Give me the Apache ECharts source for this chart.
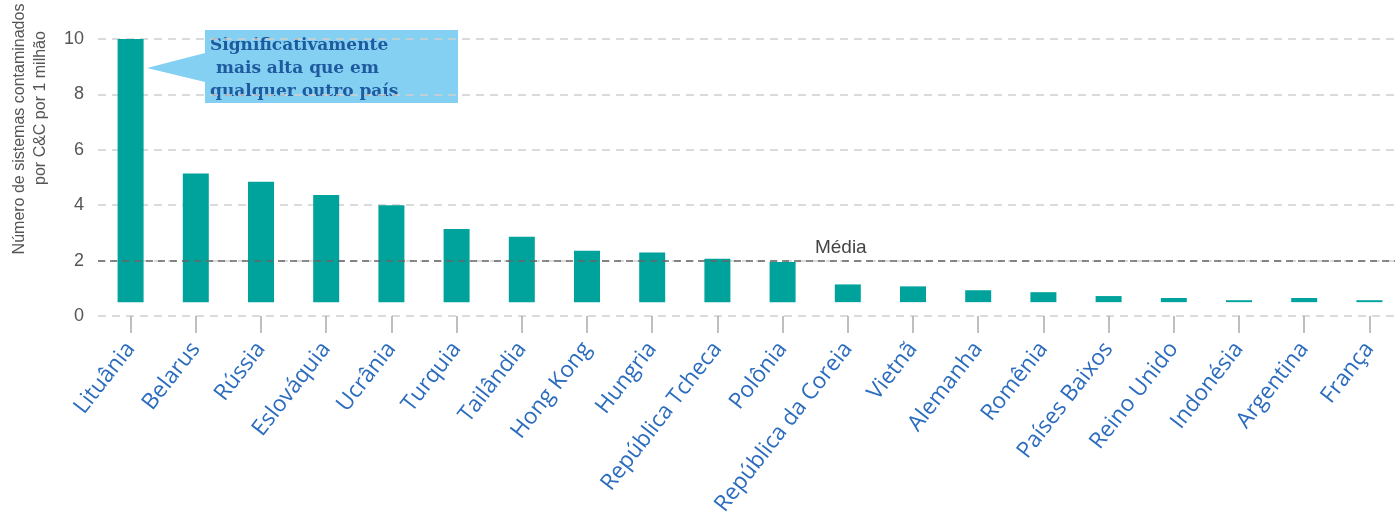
<!DOCTYPE html>
<html>
<head>
<meta charset="utf-8">
<script src="https://cdn.jsdelivr.net/npm/echarts@6/dist/echarts.min.js"></script>
<style>html,body{margin:0;padding:0;background:#fff;}#c{width:1395px;height:527px;}</style>
</head>
<body>
<div id="c"></div>
<script>
const categories = ['Lituânia','Belarus','Rússia','Eslováquia','Ucrânia','Turquia','Tailândia','Hong Kong','Hungria','República Tcheca','Polônia','República da Coreia','Vietnã','Alemanha','Romênia','Países Baixos','Reino Unido','Indonésia','Argentina','França'];
const values = [10.0, 5.14, 4.85, 4.37, 4.0, 3.14, 2.86, 2.36, 2.29, 2.07, 1.95, 1.14, 1.07, 0.93, 0.86, 0.72, 0.65, 0.57, 0.65, 0.57];
const barBase = 0.5;
const averageValue = 2;
const yTicks = [0, 2, 4, 6, 8, 10];
const yAxisNameLines = ['Número de sistemas contaminados', 'por C&C por 1 milhão'];
const averageLabel = 'Média';
const calloutLines = ['Significativamente', ' mais alta que em', 'qualquer outro país'];

const chart = echarts.init(document.getElementById('c'));
const option = {
  animation: false,
  grid: { left: 98, top: 39, width: 1304, bottom: 211, outerBoundsMode: 'none', containLabel: false },
  xAxis: {
    type: 'category',
    data: categories,
    axisLine: { show: false },
    axisTick: { show: true, alignWithLabel: true, length: 17, lineStyle: { color: '#aaaaaa', width: 1.5 } },
    axisLabel: { rotate: 52, color: '#2b6cbf', fontSize: 22.5, fontFamily: 'Open Sans', margin: 29, interval: 0 }
  },
  yAxis: {
    type: 'value', min: yTicks[0], max: yTicks[yTicks.length - 1], interval: 2,
    axisLine: { show: false }, axisTick: { show: false },
    axisLabel: { color: '#555', fontSize: 18, fontFamily: 'Liberation Sans', margin: 14 },
    splitLine: { show: true, lineStyle: { color: '#cfcfcf', type: [8, 6], width: 1.5 } }
  },
  series: [
    {
      type: 'bar', stack: 's', barWidth: 26, silent: true,
      itemStyle: { color: 'transparent' },
      data: values.map(() => barBase)
    },
    {
      type: 'bar', stack: 's', barWidth: 26,
      itemStyle: { color: '#00a39b' },
      data: values.map(v => +(v - barBase).toFixed(3)),
      markLine: {
        silent: true, symbol: 'none',
        lineStyle: { color: '#666666', type: [7, 5], width: 1.5 },
        label: { show: false },
        data: [{ yAxis: averageValue }]
      },
      markPoint: {
        silent: true, symbol: 'circle', symbolSize: 1,
        itemStyle: { color: 'transparent' },
        label: { show: true, position: 'inside', formatter: averageLabel, color: '#444', fontSize: 19, fontFamily: 'Liberation Sans', offset: [-7, -13] },
        data: [{ coord: [categories[11], averageValue] }]
      }
    }
  ],
  graphic: [
    {
      type: 'text', x: 20, y: 129, rotation: Math.PI / 2,
      style: { text: yAxisNameLines[0], fill: '#555', font: '16px "Liberation Sans"', align: 'center', verticalAlign: 'middle' }
    },
    {
      type: 'text', x: 41, y: 108, rotation: Math.PI / 2,
      style: { text: yAxisNameLines[1], fill: '#555', font: '16px "Liberation Sans"', align: 'center', verticalAlign: 'middle' }
    },
    {
      type: 'polygon',
      shape: { points: [[205, 30], [458, 30], [458, 103], [205, 103], [205, 82], [147, 68], [205, 53]] },
      style: { fill: '#83d0f2' }
    },
    {
      type: 'text', left: 210, top: 34,
      style: { text: calloutLines.join('\n'), fill: '#1f5a9e', font: 'bold 17px "DejaVu Serif"', lineHeight: 23 }
    }
  ]
};
chart.setOption(option);
</script>
</body>
</html>
